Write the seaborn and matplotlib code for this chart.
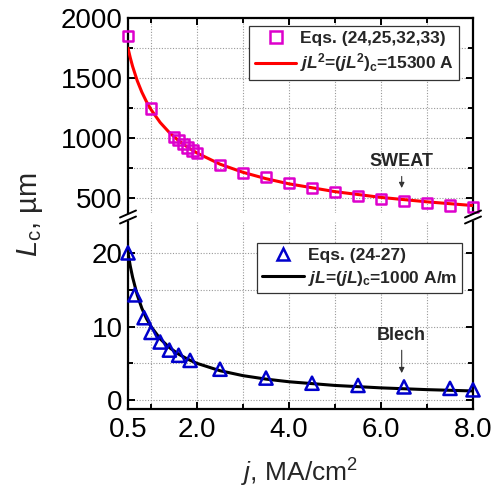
import numpy as np
import pandas as pd
import seaborn as sns
import matplotlib
matplotlib.use("Agg")
import matplotlib.pyplot as plt
from matplotlib.lines import Line2D
from matplotlib.ticker import FixedLocator

# ---------------- data ----------------
j_sweat = [0.5, 1.0, 1.5, 1.6, 1.7, 1.8, 1.9, 2.0, 2.5, 3.0, 3.5, 4.0, 4.5, 5.0, 5.5, 6.0, 6.5, 7.0, 7.5, 8.0]
L_sweat = [1850, 1245, 1008, 983, 950, 920, 895, 875, 775, 708, 675, 625, 583, 550, 517, 492, 475, 458, 440, 425]

j_blech = [0.5, 0.65, 0.85, 1.0, 1.2, 1.4, 1.6, 1.85, 2.5, 3.5, 4.5, 5.5, 6.5, 7.5, 8.0]
L_blech = [20.0, 14.3, 11.2, 9.2, 7.9, 6.8, 6.1, 5.4, 4.2, 3.0, 2.3, 2.0, 1.8, 1.6, 1.4]

j_curve = [0.5, 0.55, 0.6, 0.7, 0.8, 0.9, 1.0, 1.2, 1.4, 1.6, 1.8, 2.0, 2.5, 3.0, 3.5, 4.0, 5.0, 6.0, 7.0, 8.0]
L_curve_red = [1749, 1668, 1597, 1478, 1383, 1304, 1237, 1129, 1045, 978, 922, 875, 782, 714, 661, 618, 553, 505, 468, 437]
L_curve_black = [20.0, 18.2, 16.7, 14.3, 12.5, 11.1, 10.0, 8.33, 7.14, 6.25, 5.56, 5.0, 4.0, 3.33, 2.86, 2.5, 2.0, 1.67, 1.43, 1.25]

x_tick_labels = ["0.5", "2.0", "4.0", "6.0", "8.0"]
x_tick_pos = [0.5, 2.0, 4.0, 6.0, 8.0]
top_yticks = [500, 1000, 1500, 2000]
bot_yticks = [0, 10, 20]

# ---------------- style ----------------
sns.set_theme(style="white")
plt.rcParams["font.family"] = ["Liberation Sans", "DejaVu Sans"]
plt.rcParams["mathtext.fontset"] = "custom"
plt.rcParams["mathtext.rm"] = "Liberation Sans"
plt.rcParams["mathtext.it"] = "Liberation Sans:italic"
plt.rcParams["mathtext.bf"] = "Liberation Sans:bold"
plt.rcParams["mathtext.bfit"] = "Liberation Sans:bold:italic"

MAG = "#DD00CC"
BLUE = "#0000CC"

fig = plt.figure(figsize=(4.95, 4.92), dpi=100)
W, H = 495.0, 492.0
L0, R0 = 128, 473
ax_top = fig.add_axes([L0 / W, 1 - 213 / H, (R0 - L0) / W, (213 - 18) / H])
ax_bot = fig.add_axes([L0 / W, 1 - 409 / H, (R0 - L0) / W, (409 - 222) / H])

df_top = pd.DataFrame({"j": j_sweat, "L": L_sweat})
df_bot = pd.DataFrame({"j": j_blech, "L": L_blech})
df_cr = pd.DataFrame({"j": j_curve, "L": L_curve_red})
df_cb = pd.DataFrame({"j": j_curve, "L": L_curve_black})

sns.lineplot(data=df_cr, x="j", y="L", ax=ax_top, color="red", lw=2.2, zorder=3)
sns.scatterplot(data=df_top, x="j", y="L", ax=ax_top, marker="s", s=60,
                facecolor="none", edgecolor=MAG, linewidth=1.8, zorder=4, clip_on=False)
sns.lineplot(data=df_cb, x="j", y="L", ax=ax_bot, color="black", lw=2.2, zorder=3)
sns.scatterplot(data=df_bot, x="j", y="L", ax=ax_bot, marker="^", s=90,
                facecolor="none", edgecolor=BLUE, linewidth=1.8, zorder=4, clip_on=False)

for ax in (ax_top, ax_bot):
    ax.set_xlim(0.5, 8.0)
    ax.set_xlabel("")
    ax.set_ylabel("")
    ax.xaxis.set_major_locator(FixedLocator(x_tick_pos))
    ax.xaxis.set_minor_locator(FixedLocator([1, 3, 5, 7]))
    ax.grid(True, which="both", axis="x", color="#999999", linestyle=(0, (1, 1.5)), lw=0.8)
    ax.grid(True, which="both", axis="y", color="#999999", linestyle=(0, (1, 1.5)), lw=0.8)
    ax.set_axisbelow(True)
    for sp in ax.spines.values():
        sp.set_linewidth(1.6)
        sp.set_color("black")
    ax.tick_params(which="both", direction="in", width=1.4, colors="black", labelsize=20)
    ax.tick_params(which="major", length=5)
    ax.tick_params(which="minor", length=3.5)

ax_top.set_ylim(375, 2000)
ax_top.yaxis.set_major_locator(FixedLocator(top_yticks))
ax_top.yaxis.set_minor_locator(FixedLocator([750, 1250, 1750]))
ax_top.spines["bottom"].set_visible(False)
ax_top.tick_params(axis="x", which="both", bottom=False, top=True, labelbottom=False)
ax_top.tick_params(axis="y", which="both", left=True, right=True, pad=4)

ax_bot.set_ylim(-1.2, 24.2)
ax_bot.yaxis.set_major_locator(FixedLocator(bot_yticks))
ax_bot.yaxis.set_minor_locator(FixedLocator([5, 15]))
ax_bot.spines["top"].set_visible(False)
ax_bot.set_xticklabels(x_tick_labels)
ax_bot.tick_params(axis="x", which="both", bottom=True, top=False, pad=6)
ax_bot.tick_params(axis="y", which="both", left=True, right=True, pad=4)

# labels
fig.text(30 / W, 1 - 215 / H, r"$L_\mathrm{c}$, µm", rotation=90, ha="center", va="center", fontsize=21)
fig.text(300 / W, 1 - 473 / H, r"$j$, MA/cm$^2$", ha="center", va="center", fontsize=19)

# annotations
ax_top.annotate("SWEAT", xy=(6.45, 560), xytext=(6.45, 730), ha="center", va="bottom",
                fontsize=13, fontweight="bold",
                arrowprops=dict(arrowstyle="-|>", color="#333333", lw=0.8, mutation_scale=8))
ax_bot.annotate("Blech", xy=(6.45, 3.3), xytext=(6.45, 7.6), ha="center", va="bottom",
                fontsize=13, fontweight="bold",
                arrowprops=dict(arrowstyle="-|>", color="#333333", lw=0.8, mutation_scale=8))

# legends
h1 = [Line2D([], [], ls="none", marker="s", ms=8, mfc="none", mec=MAG, mew=1.8),
      Line2D([], [], color="red", lw=2.2)]
lab1 = ["Eqs. (24,25,32,33)",
        r"$\mathbfit{jL}^\mathbf{2}$=($\mathbfit{jL}^\mathbf{2}\mathbf{)}_\mathbf{c}$=15300 A"]
leg1 = ax_top.legend(h1, lab1, loc="upper right", bbox_to_anchor=(459 / W, 1 - 26 / H),
                     bbox_transform=fig.transFigure, borderaxespad=0, frameon=True,
                     fancybox=False, edgecolor="#333333", framealpha=1,
                     prop={"weight": "bold", "size": 12.5}, handlelength=2.4,
                     handletextpad=0.2, borderpad=0.3, labelspacing=0.3)
leg1.get_frame().set_linewidth(0.9)

h2 = [Line2D([], [], ls="none", marker="^", ms=9, mfc="none", mec=BLUE, mew=1.8),
      Line2D([], [], color="black", lw=2.2)]
lab2 = ["Eqs. (24-27)",
        r"$\mathbfit{jL}$=($\mathbfit{jL}\mathbf{)}_\mathbf{c}$=1000 A/m"]
leg2 = ax_bot.legend(h2, lab2, loc="upper right", bbox_to_anchor=(462 / W, 1 - 243 / H),
                     bbox_transform=fig.transFigure, borderaxespad=0, frameon=True,
                     fancybox=False, edgecolor="#333333", framealpha=1,
                     prop={"weight": "bold", "size": 12.5}, handlelength=2.4,
                     handletextpad=0.2, borderpad=0.3, labelspacing=0.3)
leg2.get_frame().set_linewidth(0.9)

# axis break marks
for xc in (L0, R0):
    for yc in (214, 220):
        fig.add_artist(Line2D([(xc - 8) / W, (xc + 8) / W],
                              [1 - (yc + 3.5) / H, 1 - (yc - 3.5) / H],
                              color="black", lw=1.4, transform=fig.transFigure))

fig.savefig("out.png", dpi=100)
